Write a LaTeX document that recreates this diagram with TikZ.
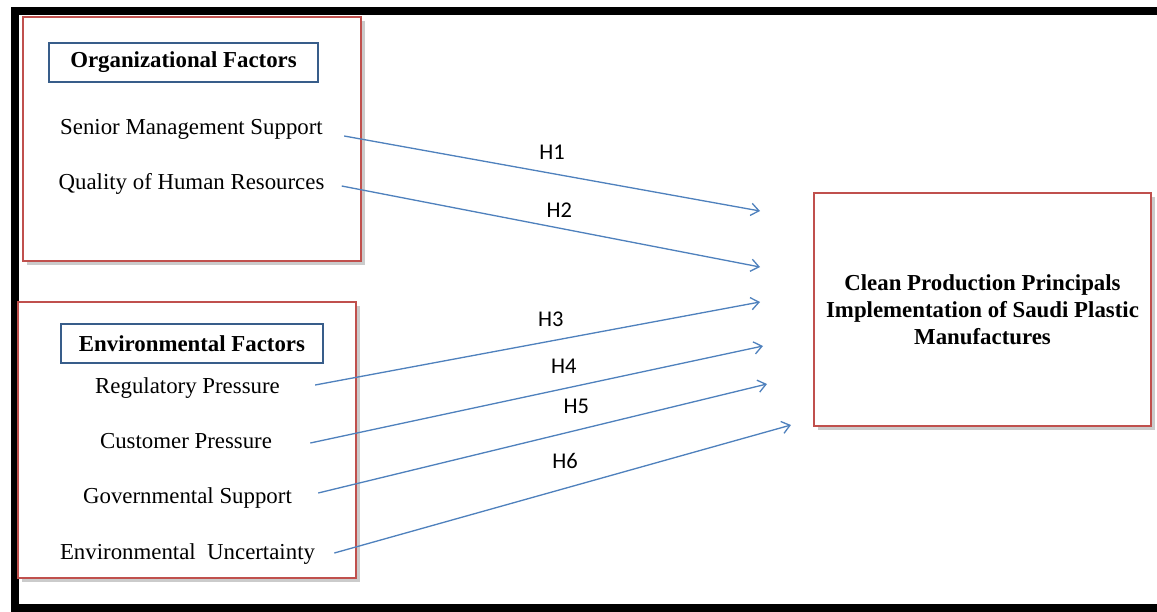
\documentclass[tikz,border=0pt]{standalone}
\usepackage{fontspec}
\setmainfont{Liberation Serif}
\newfontfamily\hypfont{Carlito}
\usepackage{tikz}
\usetikzlibrary{arrows.meta,positioning,shadows}
\definecolor{boxred}   {HTML}{C0504D}
\definecolor{titleblue}{HTML}{385D8A}
\definecolor{arrowblue}{HTML}{4F81BD}
\newcommand\diagfont{\fontsize{13}{15.5}\selectfont}

\begin{document}
\begin{tikzpicture}[
  grp/.style ={draw=boxred,line width=1.2pt,fill=white,minimum width=6.76cm,
               drop shadow={shadow xshift=2.5pt,shadow yshift=-2.5pt,
                            fill=black!45,opacity=.45}},
  ttl/.style ={draw=titleblue,line width=1.2pt,fill=white,minimum height=0.78cm,
               font=\diagfont\bfseries},
  item/.style={inner sep=0pt,anchor=base,font=\diagfont},
  hyp/.style ={-{Straight Barb[length=4.5pt,width=7pt]},draw=arrowblue,line width=0.75pt},
  hlbl/.style={font=\hypfont\fontsize{12.8}{14}\selectfont,inner sep=0pt},
  frame/.style={line width=4.5pt,draw=black},
  x=0.02cm, y=-0.02cm
]
\useasboundingbox (0,0) rectangle (1157,612);

%% outer frame (open on the right)
\draw[frame] (1157,11) -| (15,608) -- (1157,608);

%% Organizational factors
\node[grp,minimum height=4.88cm]  (org)  at (192,139)   {};
\node[ttl,minimum width=5.38cm]   (orgt) at (183.5,62.5) {Organizational Factors};
\node[item] (sms) at (191.5,134) {Senior Management Support};
\node[item] (qhr) at (191.5,189) {Quality of Human Resources};

%% Environmental factors
\node[grp,minimum height=5.52cm]  (env)  at (187,440)   {};
\node[ttl,minimum width=5.24cm]   (envt) at (192,343.5) {Environmental Factors};
\node[item] (rp) at (187.5,393) {Regulatory Pressure};
\node[item] (cp) at (186,448)   {Customer Pressure};
\node[item] (gs) at (187.5,503) {Governmental Support};
\node[item] (eu) at (187.5,559) {Environmental~~Uncertainty};

%% Outcome
\node[grp,minimum width=6.74cm,minimum height=4.66cm,align=center,
      font=\diagfont\bfseries] (cpp) at (982.5,309.5)
  {Clean Production Principals\\Implementation of Saudi Plastic\\Manufactures};

%% arrow tips stop short of the outcome box
\coordinate (e1) at (760,211);
\coordinate (e2) at (760,267);
\coordinate (e3) at (760,302);
\coordinate (e4) at (763,346);
\coordinate (e5) at (767,384);
\coordinate (e6) at (791,425);

%% Hypotheses
\draw[hyp] ([shift={(21,2)}]sms.base east) --
  node[hlbl,pos=.50,above=7.4pt]{H1} (e1);
\draw[hyp] ([shift={(17,-3)}]qhr.base east) --
  node[hlbl,pos=.52,above=5.7pt]{H2} (e2);
\draw[hyp] ([shift={(35,-8)}]rp.base east) --
  node[hlbl,pos=.53,above=8pt]{H3} (e3);
\draw[hyp] ([shift={(38,-5)}]cp.base east) --
  node[hlbl,pos=.56,above=8.5pt]{H4} (e4);
\draw[hyp] ([shift={(26,-10)}]gs.base east) --
  node[hlbl,pos=.575,above=9pt]{H5} (e5);
\draw[hyp] ([shift={(19,-6)}]eu.base east) --
  node[hlbl,pos=.505,above=11pt]{H6} (e6);

\end{tikzpicture}
\end{document}
